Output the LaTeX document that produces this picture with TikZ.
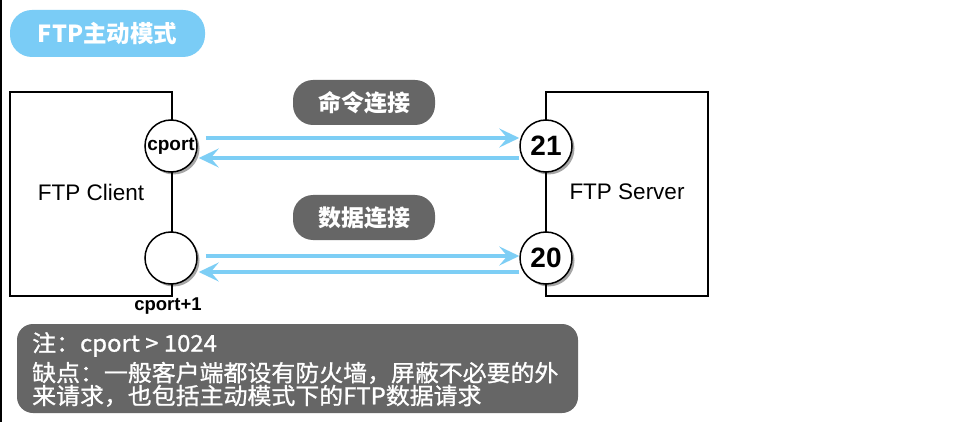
\documentclass[tikz,border=0pt]{standalone}
\usepackage{fontspec}
\setmainfont{Liberation Sans}
\newfontfamily\cjk{Noto Sans CJK SC}
\newfontfamily\cjknote[FakeBold=1,FakeStretch=1.04]{Noto Sans CJK SC}
\usetikzlibrary{arrows.meta,shadows}
\definecolor{pillblue}{RGB}{122,204,246}
\definecolor{pillgray}{RGB}{102,102,102}
\definecolor{arrblue}{RGB}{125,206,245}
\tikzset{
  framebox/.style={draw=black, line width=1.5pt, minimum width=162pt, minimum height=204pt, inner sep=0pt},
  port/.style={circle, draw=black, fill=white, line width=1.5pt, minimum size=52pt, inner sep=0pt,
    drop shadow={shadow xshift=2.5pt, shadow yshift=-2.5pt, opacity=0.35, fill=black}},
  graypill/.style={fill=pillgray, rounded corners=20pt, minimum width=142pt, minimum height=45pt, inner sep=0pt,
    text=white, font=\cjk\bfseries\fontsize{23pt}{23pt}\selectfont},
  arr/.style={draw=arrblue, line width=4pt, -{Stealth[length=20pt, width=19pt, inset=8pt]}},
}
\begin{document}
\begin{tikzpicture}[x=1pt,y=1pt]
\useasboundingbox (0,0) rectangle (955,-422);
\fill[white] (0,0) rectangle (955,-422);
\draw[black, line width=1.5pt] (0.75,0) -- (0.75,-422);
% title
\node[fill=pillblue, rounded corners=22pt, minimum width=195pt, minimum height=47pt, inner sep=0pt,
  text=white, font=\cjk\bfseries\fontsize{23.5pt}{23.5pt}\selectfont] (title) at (107.5,-33.5) {FTP主动模式};
% boxes
\node[framebox] (client) at (91,-194) {};
\node[framebox] (server) at (627,-194) {};
\node[font=\fontsize{22.5pt}{22.5pt}\selectfont] (clientlbl) at (91,-192) {FTP Client};
\node[font=\fontsize{22.5pt}{22.5pt}\selectfont] (serverlbl) at (627,-192) {FTP Server};
% ports
\node[port, font=\bfseries\fontsize{19pt}{19pt}\selectfont] (cport) at (171,-146) {cport};
\node[port] (cport1) at (171,-258) {};
\node[port, font=\bfseries\fontsize{28pt}{28pt}\selectfont] (p21) at (546,-146) {21};
\node[port, font=\bfseries\fontsize{28pt}{28pt}\selectfont] (p20) at (546,-258) {20};
\node[font=\bfseries\fontsize{18.5pt}{18.5pt}\selectfont] (cport1lbl) at (168,-306) {cport+1};
% labels
\node[graypill] (cmd) at (364,-102.5) {命令连接};
\node[graypill] (data) at (364,-217.5) {数据连接};
% arrows
\draw[arr] ([shift={(8pt,8pt)}]cport.east) -- ([yshift=8pt]p21.west);
\draw[arr] ([yshift=-12pt]p21.west) -- ([shift={(1pt,-12pt)}]cport.east);
\draw[arr] ([shift={(8pt,2pt)}]cport1.east) -- ([yshift=2pt]p20.west);
\draw[arr] ([yshift=-14pt]p20.west) -- ([shift={(1pt,-14pt)}]cport1.east);
% note
\node[fill=pillgray, rounded corners=16pt, minimum width=561pt, minimum height=89pt, inner sep=0pt] (note) at (297.5,-368.5) {};
\node[anchor=north west, inner sep=0pt, text=white, align=left,
  font=\cjknote\fontsize{23pt}{20.5pt}\selectfont] (notetxt) at (32,-332)
  {注：cport > 1024\\[4pt]缺点：一般客户端都设有防火墙，屏蔽不必要的外\\来请求，也包括主动模式下的FTP数据请求};
\end{tikzpicture}
\end{document}
